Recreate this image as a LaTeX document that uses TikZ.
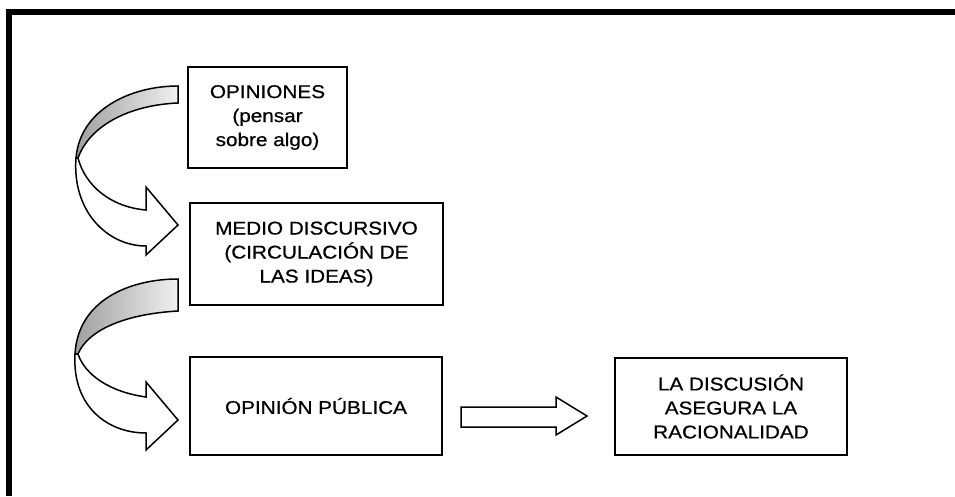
\documentclass[tikz,border=0pt]{standalone}
\usepackage{fontspec}
\setmainfont{Liberation Sans}[FakeStretch=1.12,FakeBold=0.6]
\begin{document}
\begin{tikzpicture}[x=1pt,y=-1pt,
  box/.style={draw, line width=1.3pt, rectangle, align=center, inner sep=0pt,
              font=\fontsize{18.5}{24}\selectfont},
  arrowline/.style={draw, line width=1.5pt, line join=miter, fill=white},
  backside/.style={draw, line width=1.5pt, left color=gray!75, right color=gray!12}]
\useasboundingbox (0,0) rectangle (955,496);
\fill[white] (0,0) rectangle (955,496);
% frame
\draw[line width=6pt] (8.5,496) -- (8.5,12) -- (955,12);
% boxes
\node[box, minimum width=159pt, minimum height=101pt] (opin) at (267.5,117.5)
  {OPINIONES\\(pensar\\sobre algo)};
\node[box, minimum width=253pt, minimum height=102pt] (medio) at (316.5,254)
  {MEDIO DISCURSIVO\\(CIRCULACIÓN DE\\LAS IDEAS)};
\node[box, minimum width=252pt, minimum height=98pt] (pub) at (316,406)
  {OPINIÓN PÚBLICA};
\node[box, minimum width=232pt, minimum height=97pt] (disc) at (731,406.5)
  {LA DISCUSIÓN\\ASEGURA LA\\RACIONALIDAD};
% curved arrow 1 (opin -> medio)
\coordinate (c1s) at (178,86);
\coordinate (c1t) at (178,225);
\path[backside] (c1s) .. controls (130,86) and (80,110) .. (76,158)
  -- (78,158) .. controls (90,125) and (130,105) .. (178,103) -- cycle;
\path[arrowline] (76,158) .. controls (72,212) and (108,246) .. (146,246)
  -- (146,255) -- (c1t) -- (146,187) -- (146,210)
  .. controls (110,207) and (85,185) .. (78,158) -- cycle;
% curved arrow 2 (medio -> pub)
\coordinate (c2s) at (178,279);
\coordinate (c2t) at (178,420);
\path[backside] (c2s) .. controls (130,279) and (78,300) .. (75,354)
  -- (78,354) .. controls (88,330) and (125,314) .. (178,311) -- cycle;
\path[arrowline] (75,354) .. controls (72,407) and (108,433) .. (146,433)
  -- (146,450) -- (c2t) -- (146,382) -- (146,397)
  .. controls (110,392) and (85,375) .. (78,354) -- cycle;
% straight arrow (pub -> disc)
\path[arrowline] (461,407) -- (556,407) -- (556,397) -- (587,416)
  -- (556,435) -- (556,427) -- (461,427) -- cycle;
\end{tikzpicture}
\end{document}
